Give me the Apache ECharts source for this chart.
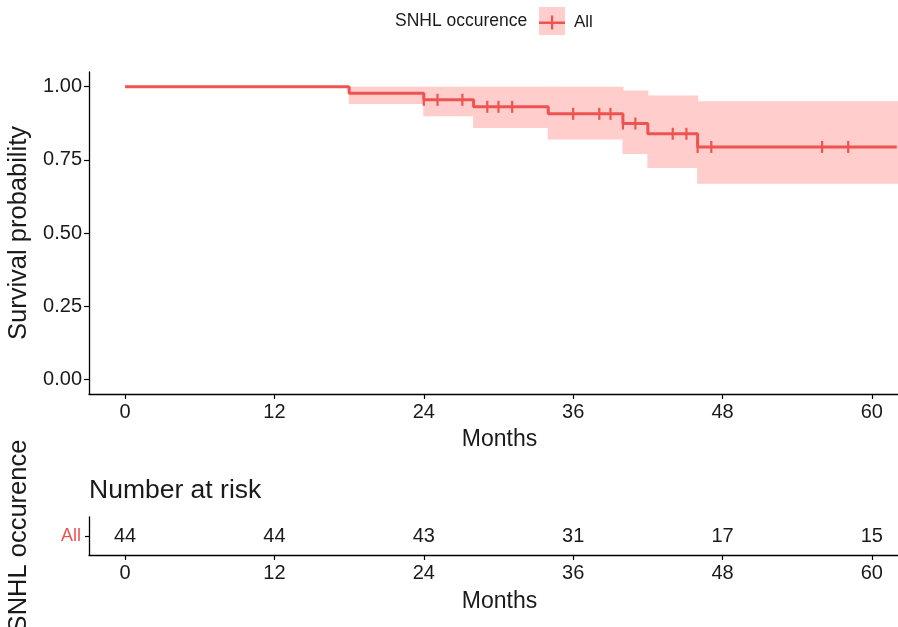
<!DOCTYPE html>
<html><head><meta charset="utf-8">
<script src="https://cdn.jsdelivr.net/npm/echarts@6/dist/echarts.min.js"></script>
<style>html,body{margin:0;padding:0;background:#fff}#c{width:898px;height:627px}</style>
</head><body><div id="c"></div>
<script>
// ---- data ----
var stepTimes = [0, 18, 24, 28, 34, 40, 42, 46, 62];
var stepSurv  = [1.0, 0.977, 0.955, 0.931, 0.907, 0.874, 0.839, 0.794, 0.794];
var bandStart = [18, 24, 28, 34, 40, 42, 46];
var bandEnd   = [24, 28, 34, 40, 42, 46, 62.1];
var bandLower = [0.941, 0.899, 0.859, 0.819, 0.770, 0.722, 0.668];
var bandUpper = [1.0, 1.0, 1.0, 1.0, 0.987, 0.970, 0.950];
var censorTimes = [24.0, 25.1, 27.1, 29.1, 30.0, 31.1, 36.0, 38.1, 39.0, 40.0, 41.0, 44.0, 45.1, 46.0, 47.1, 56.0, 58.1];
var censorSurv  = [0.955, 0.955, 0.955, 0.931, 0.931, 0.931, 0.907, 0.907, 0.907, 0.874, 0.874, 0.839, 0.839, 0.794, 0.794, 0.794, 0.794];
var riskTimes = [0, 12, 24, 36, 48, 60];
var riskCounts = [44, 44, 43, 31, 17, 15];
var xTicks = [0, 12, 24, 36, 48, 60];
var yTicks = [0, 0.25, 0.5, 0.75, 1.0];
var groupName = 'All';

var RED = '#EF5350', PINK = '#FFCDCB', FONT = '"Liberation Sans", Arial, Helvetica, sans-serif', TXT = '#1a1a1a';

var chart = echarts.init(document.getElementById('c'), null, {renderer: 'canvas'});
var axisLine = {show: true, onZero: false, lineStyle: {color: '#000', width: 1.3}};

function xAxisDef(gi) {
  return {
    type: 'value', gridIndex: gi, min: -2.9, max: 62.1,
    name: 'Months', nameLocation: 'middle', nameGap: gi === 0 ? 34 : 35,
    nameTextStyle: {fontSize: 23, color: TXT, fontFamily: FONT, padding: [0, 0, 0, 12]},
    axisLine: axisLine,
    axisTick: {show: true, length: 5, lineStyle: {color: '#000', width: 1.2}, customValues: xTicks},
    axisLabel: {customValues: xTicks, fontSize: 20, color: TXT, fontFamily: FONT, margin: 8},
    splitLine: {show: false}
  };
}

var lineData = stepTimes.map(function (t, i) { return [t, stepSurv[i]]; });
var bandData = bandStart.map(function (t, i) { return [t, bandEnd[i], bandLower[i], bandUpper[i]]; });
var censorData = censorTimes.map(function (t, i) { return [t, censorSurv[i]]; });
var riskData = riskTimes.map(function (t, i) { return [t, groupName, riskCounts[i]]; });

chart.setOption({
  animation: false,
  textStyle: {fontFamily: FONT},
  title: {
    text: 'Number at risk', left: 84, top: 472,
    textStyle: {fontSize: 26.5, fontWeight: 'normal', color: TXT, fontFamily: FONT}
  },
  legend: {
    data: [{name: groupName, icon: 'path://M0,6 L26,6 L26,8.5 L0,8.5 Z M12,0 L14.2,0 L14.2,14 L12,14 Z'}],
    left: 534, top: 9, itemWidth: 26, itemHeight: 14, itemGap: 6,
    textStyle: {fontSize: 17, color: TXT, fontFamily: FONT, padding: [0, 0, 0, 4]}, selectedMode: false
  },
  graphic: [
    {type: 'rect', left: 539, top: 7, z: -10, shape: {width: 26, height: 28}, style: {fill: PINK}},
    {type: 'text', left: 395, top: 12, style: {text: 'SNHL occurence', fontSize: 17.5, fill: TXT, fontFamily: FONT}}
  ],
  grid: [
    {left: 89, right: 0, top: 72, height: 322, containLabel: false, outerBoundsMode: 'none'},
    {left: 89, right: 0, top: 517, height: 38, containLabel: false, outerBoundsMode: 'none'}
  ],
  xAxis: [xAxisDef(0), xAxisDef(1)],
  yAxis: [
    {
      type: 'value', gridIndex: 0, min: -0.05, max: 1.05,
      name: 'Survival probability', nameLocation: 'middle', nameGap: 56,
      nameTextStyle: {fontSize: 25.5, color: TXT, fontFamily: FONT},
      axisLine: axisLine,
      axisTick: {show: true, length: 5, lineStyle: {color: '#000', width: 1.2}, customValues: yTicks},
      axisLabel: {customValues: yTicks, fontSize: 20, color: TXT, fontFamily: FONT, margin: 7,
        formatter: function (v) { return Number(v).toFixed(2); }},
      splitLine: {show: false}
    },
    {
      type: 'category', gridIndex: 1, data: [groupName],
      name: 'SNHL occurence', nameLocation: 'middle', nameGap: 57,
      nameTextStyle: {fontSize: 25.5, color: TXT, fontFamily: FONT},
      axisLine: axisLine,
      axisTick: {show: true, length: 4, alignWithLabel: true, lineStyle: {color: '#000', width: 1.2}},
      axisLabel: {fontSize: 18, color: RED, fontFamily: FONT, margin: 8},
      splitLine: {show: false}
    }
  ],
  series: [
    {
      type: 'custom', name: 'band', xAxisIndex: 0, yAxisIndex: 0, clip: true, z: 1,
      data: bandData, encode: {x: [0, 1], y: [2, 3]}, silent: true,
      renderItem: function (params, api) {
        var p0 = api.coord([api.value(0), api.value(3)]);
        var p1 = api.coord([api.value(1), api.value(2)]);
        return {type: 'rect', shape: {x: p0[0] - 0.5, y: p0[1], width: p1[0] - p0[0] + 1, height: p1[1] - p0[1]},
          style: {fill: PINK}};
      }
    },
    {
      type: 'line', name: groupName, xAxisIndex: 0, yAxisIndex: 0, step: 'end', data: lineData,
      showSymbol: false, symbol: 'none', clip: true, z: 3,
      lineStyle: {color: RED, width: 3}, itemStyle: {color: RED}
    },
    {
      type: 'scatter', name: 'censor', xAxisIndex: 0, yAxisIndex: 0, data: censorData, z: 4,
      symbol: 'rect', symbolSize: [2.2, 12], itemStyle: {color: RED, opacity: 1}, silent: true
    },
    {
      type: 'scatter', name: 'risk', xAxisIndex: 1, yAxisIndex: 1, data: riskData,
      symbolSize: 0, silent: true, itemStyle: {opacity: 1, color: TXT},
      label: {show: true, position: 'inside', fontSize: 20, color: TXT, opacity: 1, fontFamily: FONT,
        formatter: function (p) { return String(p.value[2]); }}
    }
  ]
});
</script></body></html>
